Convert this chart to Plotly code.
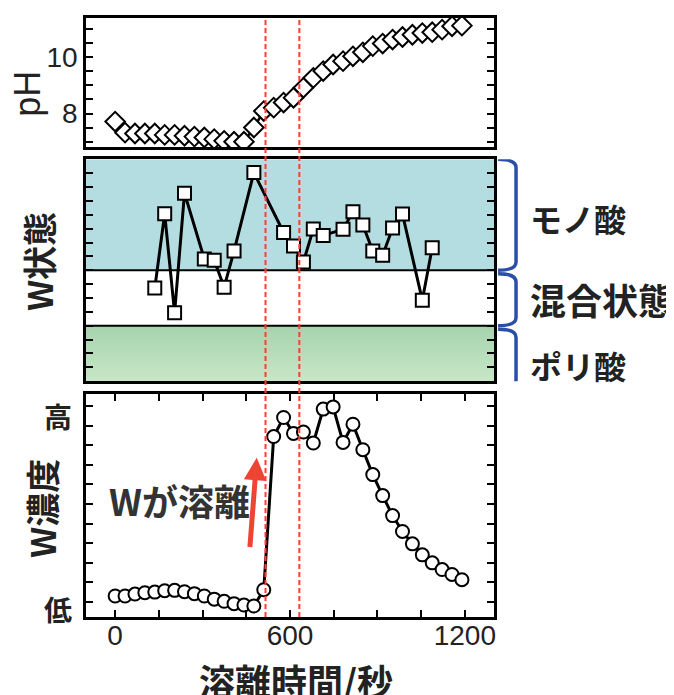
import plotly.graph_objects as go

# ---------------- data ----------------
times = [0, 34, 68, 102, 136, 170, 204, 238, 272, 306, 340, 374, 408, 442, 476, 510,
         544, 578, 612, 646, 680, 714, 748, 782, 816, 850, 884, 918, 952, 986, 1020,
         1054, 1088, 1122, 1156, 1190]

ph_values = [7.72, 7.33, 7.30, 7.30, 7.30, 7.25, 7.25, 7.22, 7.19, 7.16, 7.10, 7.04,
             7.01, 7.01, 7.51, 8.09, 8.21, 8.39, 8.56, 8.91, 9.26, 9.50, 9.73, 9.85,
             10.02, 10.16, 10.38, 10.47, 10.61, 10.70, 10.78, 10.84, 10.87, 10.96,
             11.08, 11.10]

state_times = [136, 170, 204, 238, 306, 340, 374, 408, 476, 578, 612, 646, 680, 714,
               782, 816, 850, 884, 918, 952, 986, 1054, 1088]
state_values = [6.71, 12.07, 4.93, 13.56, 8.81, 8.72, 6.78, 9.39, 15.04, 10.73, 9.75,
                8.60, 10.97, 10.51, 10.95, 12.22, 11.26, 9.39, 9.08, 11.04, 12.05,
                5.84, 9.63]

conc_values = [0.31, 0.31, 0.41, 0.48, 0.51, 0.58, 0.60, 0.53, 0.43, 0.31, 0.15, 0.04,
               -0.08, -0.15, -0.20, 0.63, 8.44, 9.41, 8.60, 8.67, 8.11, 9.84, 9.95,
               8.14, 9.07, 7.77, 6.50, 5.43, 4.41, 3.60, 2.97, 2.41, 2.00, 1.66, 1.41,
               1.14]

marker_times = [516, 632]          # red dashed guide lines (s)
arrow_tail = (462, 2.73)           # red arrow, (time, W conc units)
arrow_tip = (486, 7.36)

x_range = [-100, 1300]
x_ticks = [0, 150, 300, 450, 600, 750, 900, 1050, 1200]
x_ticktext = ["0", "", "", "", "600", "", "", "", "1200"]
ph_range = [6.81, 11.37]
ph_ticks = [7, 7.5, 8, 8.5, 9, 9.5, 10, 10.5, 11]
ph_ticktext = ["", "", "8", "", "", "", "10", "", ""]
state_range = [0, 16]
state_ticks = list(range(1, 16))
state_bands = {"poly": (0, 4), "mixed": (4, 8), "mono": (8, 16)}
conc_range = [-0.76, 10.6]
conc_ticks = list(range(0, 11))

# ---------------- style ----------------
JP = "Noto Sans CJK JP"
NUM = "Liberation Sans, Arial, sans-serif"
RED = "#ee4433"
BLUE = "#2b4ea6"
TEAL = "#b3dde0"
TXT = "#222222"

fig = go.Figure()

# green gradient band (poly acid)
y0, y1 = state_bands["poly"]
fig.add_trace(go.Scatter(
    x=[x_range[0], x_range[1], x_range[1], x_range[0], x_range[0]],
    y=[y0, y0, y1, y1, y0], xaxis="x2", yaxis="y2",
    mode="lines", line=dict(width=0), fill="toself",
    fillgradient=dict(type="vertical",
                      colorscale=[[0, "#c8e7c6"], [1, "#a5d3ad"]]),
    hoverinfo="skip", showlegend=False))

# pH
fig.add_trace(go.Scatter(
    x=times, y=ph_values, xaxis="x3", yaxis="y3", mode="lines+markers",
    line=dict(color="black", width=2.5),
    marker=dict(symbol="diamond", size=15, color="white",
                line=dict(color="black", width=2)),
    showlegend=False))

# W state
fig.add_trace(go.Scatter(
    x=state_times, y=state_values, xaxis="x2", yaxis="y2", mode="lines+markers",
    line=dict(color="black", width=3),
    marker=dict(symbol="square", size=13, color="white",
                line=dict(color="black", width=2)),
    showlegend=False))

# W concentration
fig.add_trace(go.Scatter(
    x=times, y=conc_values, xaxis="x", yaxis="y", mode="lines+markers",
    line=dict(color="black", width=3),
    marker=dict(symbol="circle", size=13, color="white",
                line=dict(color="black", width=2)),
    showlegend=False))

frame = dict(showline=True, linecolor="black", linewidth=2.5, mirror=True,
             showgrid=False, zeroline=False)

# page body has an 8px margin, so the figure is 8px smaller than the window
fig.update_layout(
    width=666, height=687,
    margin=dict(l=78, r=180, t=7, b=78),
    paper_bgcolor="white", plot_bgcolor="white",
    showlegend=False,
    xaxis=dict(domain=[0, 1], anchor="y", range=x_range, **{**frame, "mirror": "ticks"},
               ticks="inside", ticklen=7, tickwidth=2, tickcolor="black",
               tickvals=x_ticks, ticktext=x_ticktext, ticklabelstandoff=-8,
               tickfont=dict(family=NUM, size=28, color=TXT)),
    xaxis2=dict(domain=[0, 1], anchor="y2", matches="x", range=x_range, **frame,
                ticks="", showticklabels=False),
    xaxis3=dict(domain=[0, 1], anchor="y3", matches="x", range=x_range, **frame,
                ticks="", showticklabels=False),
    yaxis=dict(domain=[0, 0.372], anchor="x", range=conc_range,
               **{**frame, "mirror": "ticks"},
               ticks="inside", ticklen=7, tickwidth=2, tickcolor="black",
               tickvals=conc_ticks, showticklabels=False),
    yaxis2=dict(domain=[0.3937, 0.7641], anchor="x2", range=state_range,
                **{**frame, "mirror": "ticks"},
                ticks="inside", ticklen=7, tickwidth=2, tickcolor="black",
                tickvals=state_ticks, showticklabels=False),
    yaxis3=dict(domain=[0.784, 1], anchor="x3", range=ph_range,
                **{**frame, "mirror": "ticks"},
                ticks="inside", ticklen=7, tickwidth=2, tickcolor="black",
                tickvals=ph_ticks, ticktext=ph_ticktext, ticklabelstandoff=0,
                tickfont=dict(family=NUM, size=28, color=TXT)),
)

shapes = []
# teal band (mono acid) and white band borders
m0, m1 = state_bands["mono"]
shapes.append(dict(type="rect", xref="x2 domain", yref="y2", x0=0, x1=1, y0=m0, y1=m1,
                   fillcolor=TEAL, line=dict(width=0), layer="below"))
for yb in (state_bands["mixed"][0], state_bands["mixed"][1]):
    shapes.append(dict(type="line", xref="x2 domain", yref="y2", x0=0, x1=1,
                       y0=yb, y1=yb, line=dict(color="black", width=2),
                       layer="above"))

# red dashed lines through all panels
for t in marker_times:
    shapes.append(dict(type="line", xref="x", yref="paper", x0=t, x1=t, y0=0, y1=1,
                       line=dict(color=RED, width=2, dash="5px,3px"), layer="above"))

# blue braces on the right of the middle panel
def brace(top, bot):
    xl, xr, d = 1.010, 1.054, 0.6
    return (f"M {xl} {top} Q {xr} {top} {xr} {top - d} "
            f"L {xr} {bot + d} Q {xr} {bot} {xl} {bot}")

for (bt, bb) in [(state_bands["mono"][1], state_bands["mono"][0]),
                 (state_bands["mixed"][1] - 0.25, state_bands["mixed"][0]),
                 (state_bands["poly"][1] - 0.25, state_bands["poly"][0] - 0.5)]:
    shapes.append(dict(type="path", xref="paper", yref="y2", path=brace(bt, bb),
                       line=dict(color=BLUE, width=3.5)))

fig.update_layout(shapes=shapes)

ann = []
# y-axis titles
ann.append(dict(text="pH", xref="paper", yref="y3", x=-0.142, y=8.7, showarrow=False,
                xanchor="center", yanchor="middle",
                textangle=-90, font=dict(family=NUM, size=36, color=TXT)))
ann.append(dict(text="W状態", xref="paper", yref="y2", x=-0.115, y=8.6, showarrow=False,
                xanchor="center", yanchor="middle",
                textangle=-90, font=dict(family=JP, size=34, color=TXT, weight="bold")))
ann.append(dict(text="W濃度", xref="paper", yref="y", x=-0.108, y=4.8, showarrow=False,
                xanchor="center", yanchor="middle",
                textangle=-90, font=dict(family=JP, size=34, color=TXT, weight="bold")))
# high / low labels
ann.append(dict(text="高", xref="paper", yref="y", x=-0.069, y=9.5, showarrow=False,
                xanchor="center", yanchor="middle",
                font=dict(family=JP, size=28, color=TXT, weight="bold")))
ann.append(dict(text="低", xref="paper", yref="y", x=-0.069, y=-0.37, showarrow=False,
                xanchor="center", yanchor="middle",
                font=dict(family=JP, size=28, color=TXT, weight="bold")))
# x title
ann.append(dict(text="溶離時間/秒", xref="paper", yref="paper", x=0.515, y=-0.105,
                showarrow=False, xanchor="center", yanchor="middle",
                font=dict(family=JP, size=36, color=TXT, weight="bold")))
# right-hand labels
for txt, yv, fs in [("モノ酸", 11.8, 32), ("混合状態", 5.96, 36), ("ポリ酸", 1.15, 32)]:
    ann.append(dict(text=txt, xref="paper", yref="y2", x=1.083, y=yv, xanchor="left",
                    yanchor="middle", showarrow=False,
                    font=dict(family=JP, size=fs, color=TXT, weight="bold")))
# W elution annotation + arrow
ann.append(dict(text="Wが溶離", xref="x", yref="y", x=222, y=5.2, showarrow=False,
                xanchor="center", yanchor="middle",
                font=dict(family=JP, size=36, color="#333333", weight="bold")))
ann.append(dict(text="", xref="x", yref="y", x=arrow_tip[0], y=arrow_tip[1],
                axref="x", ayref="y", ax=arrow_tail[0], ay=arrow_tail[1],
                showarrow=True, arrowhead=2, arrowsize=0.9, arrowwidth=5,
                arrowcolor=RED, standoff=0, startstandoff=0))
fig.update_layout(annotations=ann)

fig.write_html("out.html")
